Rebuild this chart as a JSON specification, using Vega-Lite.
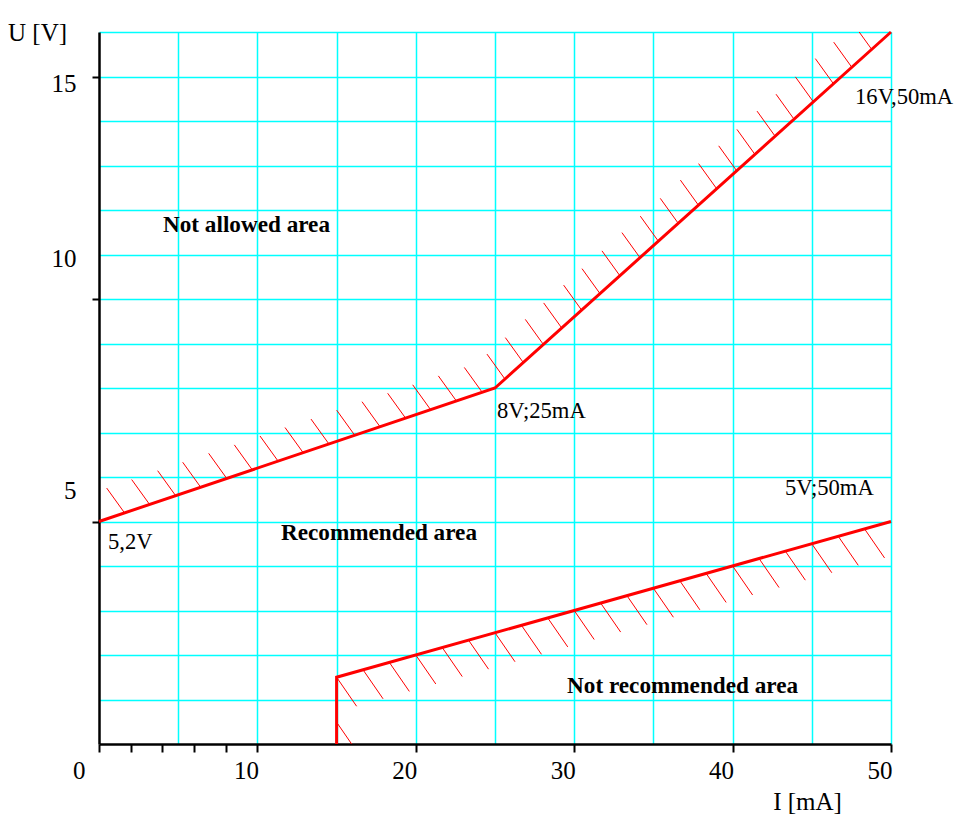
{
  "$schema": "https://vega.github.io/schema/vega-lite/v6.json",
  "width": 792,
  "height": 712,
  "autosize": {"type": "none"},
  "padding": {"left": 99, "top": 32, "right": 68, "bottom": 70},
  "background": "white",
  "config": {"view": {"stroke": null}},
  "datasets": {
    "lines": [
      {"series": "max", "ord": 1, "I": 0, "U": 5},
      {"series": "max", "ord": 2, "I": 25, "U": 8},
      {"series": "max", "ord": 3, "I": 50, "U": 16},
      {"series": "min", "ord": 1, "I": 15, "U": 0},
      {"series": "min", "ord": 2, "I": 15, "U": 1.5},
      {"series": "min", "ord": 3, "I": 50, "U": 5}
    ],
    "hatchUpper": [
      {"I": 1.62, "U": 5.19}, {"I": 3.2, "U": 5.38}, {"I": 4.84, "U": 5.58}, {"I": 6.42, "U": 5.77},
      {"I": 8.06, "U": 5.97}, {"I": 9.68, "U": 6.16}, {"I": 11.3, "U": 6.36}, {"I": 12.88, "U": 6.55},
      {"I": 14.52, "U": 6.74}, {"I": 16.14, "U": 6.94}, {"I": 17.74, "U": 7.13}, {"I": 19.36, "U": 7.32},
      {"I": 20.94, "U": 7.51}, {"I": 22.56, "U": 7.71}, {"I": 24.2, "U": 7.9},
      {"I": 25.63, "U": 8.2}, {"I": 26.79, "U": 8.57}, {"I": 28.05, "U": 8.98}, {"I": 29.21, "U": 9.35},
      {"I": 30.47, "U": 9.75}, {"I": 31.63, "U": 10.12}, {"I": 32.89, "U": 10.52}, {"I": 34.15, "U": 10.93},
      {"I": 35.31, "U": 11.3}, {"I": 36.57, "U": 11.7}, {"I": 37.84, "U": 12.11}, {"I": 38.99, "U": 12.48},
      {"I": 40.26, "U": 12.88}, {"I": 41.41, "U": 13.25}, {"I": 42.68, "U": 13.66}, {"I": 43.88, "U": 14.04},
      {"I": 45.1, "U": 14.43}, {"I": 46.36, "U": 14.84}, {"I": 47.52, "U": 15.21}, {"I": 48.78, "U": 15.61}
    ],
    "hatchLower": [
      {"I": 15, "U": 0.49}, {"I": 15, "U": 1.5}, {"I": 16.67, "U": 1.667}, {"I": 18.33, "U": 1.833},
      {"I": 20, "U": 2.0}, {"I": 21.67, "U": 2.167}, {"I": 23.33, "U": 2.333}, {"I": 25, "U": 2.5},
      {"I": 26.67, "U": 2.667}, {"I": 28.33, "U": 2.833}, {"I": 30, "U": 3.0}, {"I": 31.67, "U": 3.167},
      {"I": 33.33, "U": 3.333}, {"I": 35, "U": 3.5}, {"I": 36.67, "U": 3.667}, {"I": 38.33, "U": 3.833},
      {"I": 40, "U": 4.0}, {"I": 41.67, "U": 4.167}, {"I": 43.33, "U": 4.333}, {"I": 45, "U": 4.5},
      {"I": 46.67, "U": 4.667}, {"I": 48.33, "U": 4.833}
    ],
    "labels": [
      {"kind": "area", "label": "Not allowed area", "I": 4.04, "U": 11.66},
      {"kind": "area", "label": "Recommended area", "I": 11.49, "U": 4.74},
      {"kind": "area", "label": "Not recommended area", "I": 29.55, "U": 1.3},
      {"kind": "point", "label": "5,2V", "I": 0.57, "U": 4.54},
      {"kind": "point", "label": "8V;25mA", "I": 25.13, "U": 7.48},
      {"kind": "point", "label": "16V,50mA", "I": 47.73, "U": 14.54},
      {"kind": "point", "label": "5V;50mA", "I": 43.31, "U": 5.75}
    ]
  },
  "encoding": {
    "x": {
      "field": "I",
      "type": "quantitative",
      "scale": {"domain": [0, 50], "nice": false, "zero": false},
      "axis": {
        "values": [0, 2, 4, 5, 6, 8, 10, 15, 20, 25, 30, 35, 40, 45, 50],
        "title": "I [mA]",
        "titleFont": "Liberation Sans Narrow",
        "titleFontSize": 25,
        "titleFontWeight": "normal",
        "titleColor": "black",
        "titleX": 708,
        "titleY": 57,
        "titleAlign": "center",
        "titleBaseline": "middle",
        "domainColor": "black",
        "domainWidth": 2.5,
        "tickColor": "black",
        "tickWidth": 2,
        "tickSize": 8,
        "tickOpacity": {"condition": {"test": "(datum.value <= 10 && datum.value % 2 == 0) || datum.value % 10 == 0", "value": 1}, "value": 0},
        "grid": true,
        "gridColor": "#00FFFF",
        "gridWidth": 1.5,
        "gridOpacity": {"condition": {"test": "datum.value % 5 == 0 && datum.value > 0", "value": 1}, "value": 0},
        "labelExpr": "datum.value % 10 == 0 ? datum.label : ''",
        "labelFont": "Liberation Sans Narrow",
        "labelFontSize": 25,
        "labelColor": "black",
        "labelAlign": "right",
        "labelPadding": 6,
        "labelOffset": {"condition": {"test": "datum.value == 0", "value": -14}, "value": 1},
        "labelFlush": false,
        "labelOverlap": false,
        "labelBound": false
      }
    },
    "y": {
      "field": "U",
      "type": "quantitative",
      "scale": {"domain": [0, 16], "nice": false, "zero": false},
      "axis": {
        "values": [1, 2, 3, 4, 5, 6, 7, 8, 9, 10, 11, 12, 13, 14, 15, 16],
        "title": "U [V]",
        "titleFont": "Liberation Sans Narrow",
        "titleFontSize": 25,
        "titleFontWeight": "normal",
        "titleColor": "black",
        "titleAngle": 0,
        "titleX": -62,
        "titleY": 0,
        "titleAlign": "center",
        "titleBaseline": "middle",
        "domainColor": "black",
        "domainWidth": 2.5,
        "tickColor": "black",
        "tickWidth": 2,
        "tickSize": 7,
        "tickOpacity": {"condition": {"test": "datum.value % 5 == 0", "value": 1}, "value": 0},
        "grid": true,
        "gridColor": "#00FFFF",
        "gridWidth": 1.5,
        "labelExpr": "datum.value % 5 == 0 ? datum.label : ''",
        "labelFont": "Liberation Sans Narrow",
        "labelFontSize": 25,
        "labelColor": "black",
        "labelAlign": "right",
        "labelBaseline": "middle",
        "labelPadding": 16,
        "labelOffset": {"condition": [{"test": "datum.value == 10", "value": -41}, {"test": "datum.value == 5", "value": -31}], "value": 7},
        "labelFlush": false,
        "labelOverlap": false,
        "labelBound": false
      }
    }
  },
  "layer": [
    {
      "data": {"name": "hatchUpper"},
      "mark": {"type": "point", "shape": "M0,0L-0.72,-1", "size": 2500, "filled": false, "stroke": "#FF0000", "strokeWidth": 1, "opacity": 1, "clip": true}
    },
    {
      "data": {"name": "hatchLower"},
      "mark": {"type": "point", "shape": "M0,0L0.69,1", "size": 3364, "filled": false, "stroke": "#FF0000", "strokeWidth": 1, "opacity": 1, "clip": true}
    },
    {
      "data": {"name": "lines"},
      "mark": {"type": "line", "color": "#FF0000", "strokeWidth": 3},
      "encoding": {
        "detail": {"field": "series", "type": "nominal"},
        "order": {"field": "ord", "type": "quantitative"}
      }
    },
    {
      "data": {"name": "labels"},
      "transform": [{"filter": "datum.kind == 'area'"}],
      "mark": {"type": "text", "align": "left", "baseline": "middle", "font": "Liberation Serif", "fontSize": 23.2, "fontWeight": "bold", "color": "black"},
      "encoding": {"text": {"field": "label", "type": "nominal"}}
    },
    {
      "data": {"name": "labels"},
      "transform": [{"filter": "datum.kind == 'point'"}],
      "mark": {"type": "text", "align": "left", "baseline": "middle", "font": "Liberation Serif", "fontSize": 22.6, "color": "black"},
      "encoding": {"text": {"field": "label", "type": "nominal"}}
    }
  ]
}
